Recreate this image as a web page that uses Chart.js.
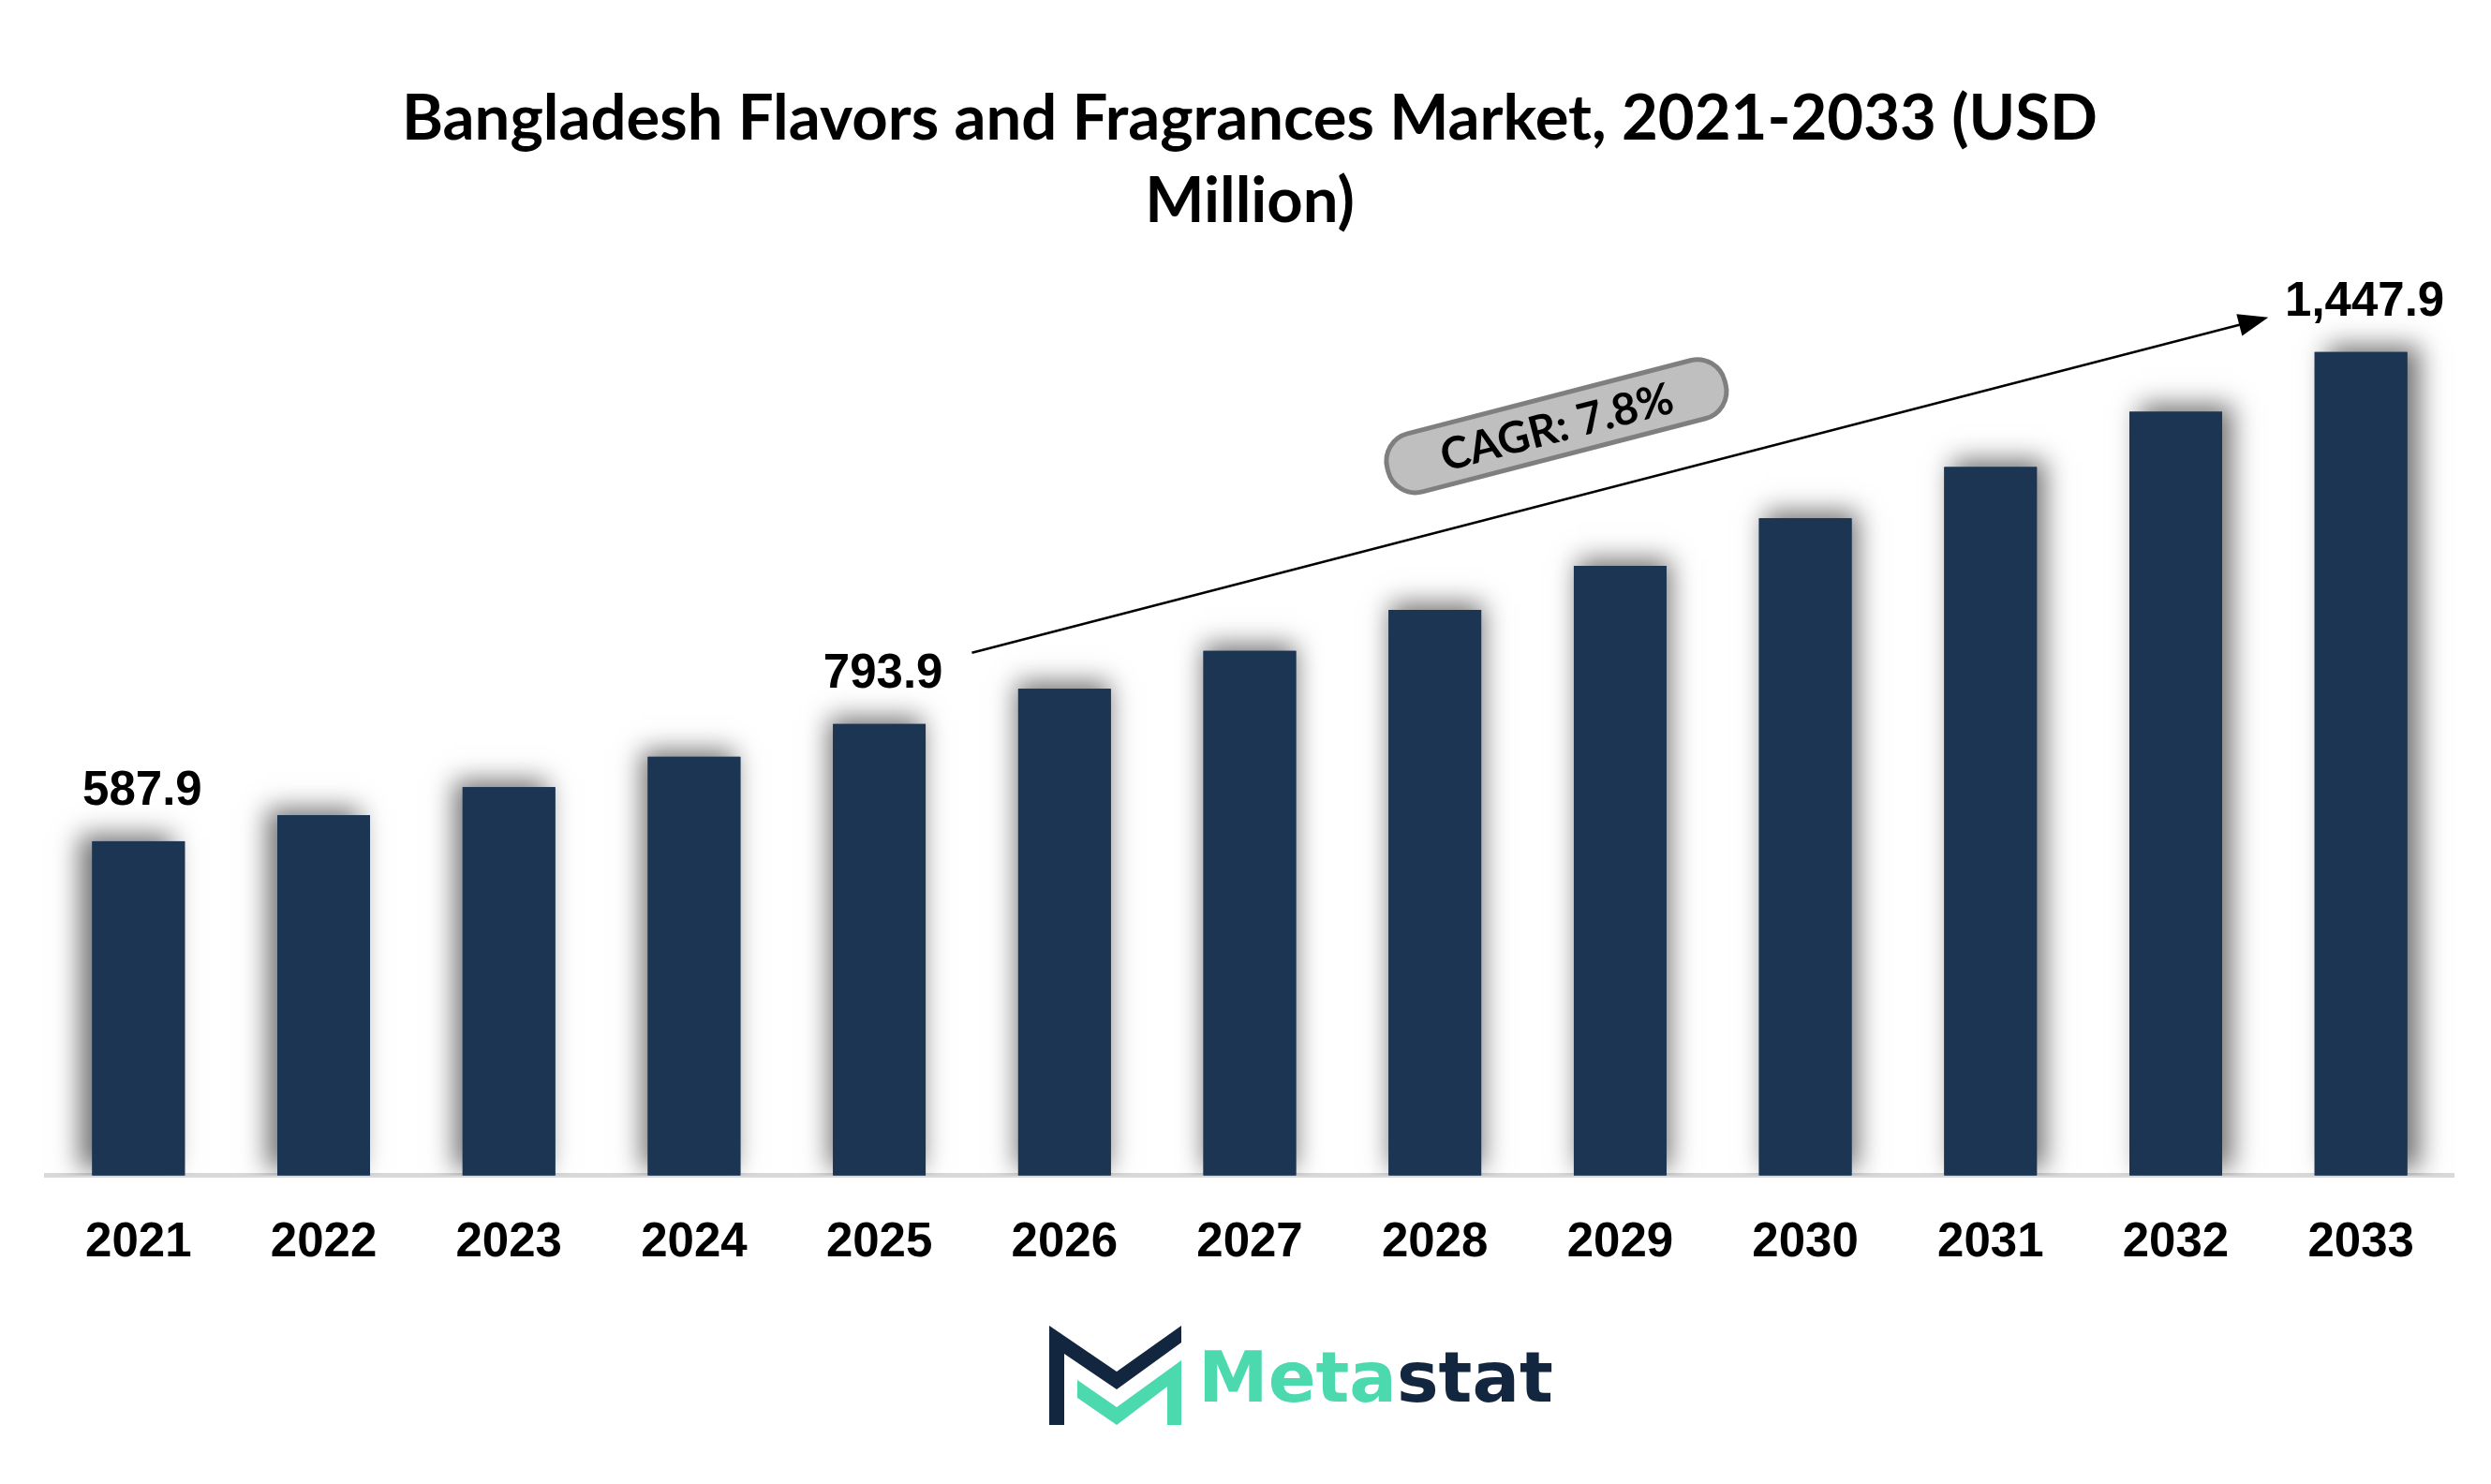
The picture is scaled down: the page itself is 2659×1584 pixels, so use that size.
<!DOCTYPE html>
<html>
<head>
<meta charset="utf-8">
<script src="https://cdn.jsdelivr.net/npm/chart.js@4.4.1/dist/chart.umd.min.js"></script>
<style>
  html, body { margin: 0; padding: 0; background: #fff; }
  #wrap { width: 2659px; height: 1584px; position: relative; }
</style>
</head>
<body>
<div id="wrap"><canvas id="chart"></canvas></div>
<script>
const years = ['2021','2022','2023','2024','2025','2026','2027','2028','2029','2030','2031','2032','2033']
const marketSize = [587.9, 633.5, 682.9, 736.2, 793.9, 855.8, 922.5, 994.5, 1072.0, 1155.6, 1245.8, 1343.0, 1447.9]
const labelledYears = [0, 4, 12]
const cagrText = 'CAGR: 7.8%'
const titleLines = ['Bangladesh Flavors and Fragrances Market, 2021-2033 (USD', 'Million)']

const barColor = '#1b3553'

// soft shadow behind each bar, pushed outwards from the middle
const barShadow = {
  id: 'barShadow',
  beforeDatasetsDraw(chart) {
    const ctx = chart.ctx
    const area = chart.chartArea
    const bars = chart.getDatasetMeta(0).data
    ctx.save()
    ctx.beginPath()
    ctx.rect(0, 0, chart.width, area.bottom)
    ctx.clip()
    bars.forEach((b, i) => {
      ctx.save()
      ctx.shadowColor = 'rgba(0,0,0,0.55)'
      ctx.shadowBlur = 26
      ctx.shadowOffsetX = -13 + 26 * i / (bars.length - 1)
      ctx.shadowOffsetY = -7
      ctx.fillStyle = barColor
      ctx.fillRect(b.x - b.width / 2, b.y, b.width, b.base - b.y)
      ctx.restore()
    })
    ctx.restore()
  }
}

const valueLabels = {
  id: 'valueLabels',
  afterDatasetsDraw(chart) {
    const ctx = chart.ctx
    const bars = chart.getDatasetMeta(0).data
    ctx.save()
    ctx.font = 'bold 51px "Liberation Sans", Arial, sans-serif'
    ctx.fillStyle = '#000'
    ctx.textAlign = 'center'
    ctx.textBaseline = 'middle'
    for (const i of labelledYears) {
      const txt = marketSize[i].toLocaleString('en-US', { minimumFractionDigits: 1 })
      ctx.fillText(txt, bars[i].x + 4, bars[i].y - 53)
    }
    ctx.restore()
  }
}

const cagrArrow = {
  id: 'cagrArrow',
  afterDraw(chart) {
    const ctx = chart.ctx
    const x = chart.scales.x, y = chart.scales.y
    const sx = (x.getPixelForValue(4) + x.getPixelForValue(5)) / 2
    const sy = y.getPixelForValue(marketSize[4]) - 76
    const ex = (x.getPixelForValue(11) + x.getPixelForValue(12)) / 2
    const ey = y.getPixelForValue(marketSize[12]) - 37
    const ang = Math.atan2(ey - sy, ex - sx)

    ctx.save()
    ctx.strokeStyle = '#000'
    ctx.lineWidth = 2.5
    ctx.beginPath()
    ctx.moveTo(sx, sy)
    ctx.lineTo(ex - 26 * Math.cos(ang), ey - 26 * Math.sin(ang))
    ctx.stroke()
    // arrow head
    ctx.translate(ex, ey)
    ctx.rotate(ang)
    ctx.fillStyle = '#000'
    ctx.beginPath()
    ctx.moveTo(0, 0)
    ctx.lineTo(-32, -12)
    ctx.lineTo(-32, 12)
    ctx.closePath()
    ctx.fill()
    ctx.restore()

    // pill with CAGR text
    const t = 0.465
    const off = 78
    const cx = sx + (ex - sx) * t + off * Math.sin(ang)
    const cy = sy + (ey - sy) * t - off * Math.cos(ang)
    const w = 372, h = 64, r = 30
    ctx.save()
    ctx.translate(cx, cy)
    ctx.rotate(ang)
    ctx.beginPath()
    ctx.roundRect(-w / 2, -h / 2, w, h, r)
    ctx.fillStyle = '#bfbfbf'
    ctx.fill()
    ctx.lineWidth = 5
    ctx.strokeStyle = '#7f7f7f'
    ctx.stroke()
    ctx.fillStyle = '#000'
    ctx.font = 'bold 47px Lato, "Open Sans", sans-serif'
    ctx.textAlign = 'center'
    ctx.textBaseline = 'middle'
    ctx.fillText(cagrText, 0, 2)
    ctx.restore()
  }
}

const logo = {
  id: 'logo',
  afterDraw(chart) {
    const ctx = chart.ctx
    const ox = 1120, oy = 1415
    ctx.save()
    ctx.translate(ox, oy)
    ctx.fillStyle = '#13263f'
    ctx.beginPath()
    ctx.moveTo(0, 0); ctx.lineTo(72, 49); ctx.lineTo(141, 0); ctx.lineTo(141, 18)
    ctx.lineTo(72, 68); ctx.lineTo(16, 30); ctx.lineTo(16, 106); ctx.lineTo(0, 106)
    ctx.closePath(); ctx.fill()
    ctx.fillStyle = '#4cd9ae'
    ctx.beginPath()
    ctx.moveTo(30, 58); ctx.lineTo(72, 87); ctx.lineTo(141, 37); ctx.lineTo(141, 106)
    ctx.lineTo(126, 106); ctx.lineTo(126, 65); ctx.lineTo(72, 106); ctx.lineTo(30, 77)
    ctx.closePath(); ctx.fill()
    ctx.restore()

    ctx.save()
    ctx.font = 'bold 75px "DejaVu Sans", sans-serif'
    ctx.textBaseline = 'alphabetic'
    ctx.textAlign = 'left'
    ctx.fillStyle = '#4cd9ae'
    ctx.fillText('Meta', 1279, 1496)
    const mw = ctx.measureText('Meta').width
    ctx.fillStyle = '#13263f'
    ctx.fillText('stat', 1279 + mw, 1496)
    ctx.restore()
  }
}

new Chart(document.getElementById('chart'), {
  type: 'bar',
  data: {
    labels: years,
    datasets: [{
      data: marketSize,
      backgroundColor: barColor,
      barPercentage: 0.5,
      categoryPercentage: 1.0
    }]
  },
  options: {
    responsive: true,
    maintainAspectRatio: false,
    animation: false,
    devicePixelRatio: 1,
    layout: { padding: { left: 49, right: 40, top: 0, bottom: 184 } },
    plugins: {
      legend: { display: false },
      tooltip: { enabled: false },
      title: {
        display: true,
        text: titleLines,
        color: '#000',
        font: { family: 'Lato, "Open Sans", sans-serif', size: 67, weight: 'bold', lineHeight: 88 / 67 },
        padding: { top: 83, bottom: 22 }
      }
    },
    scales: {
      x: {
        grid: { display: false, drawTicks: false },
        border: { display: true, color: '#d9d9d9', width: 5 },
        ticks: {
          color: '#000',
          padding: 42,
          font: { family: '"Liberation Sans", Arial, sans-serif', size: 51, weight: 'bold' }
        }
      },
      y: {
        display: false,
        min: 0,
        max: 1604
      }
    }
  },
  plugins: [barShadow, valueLabels, cagrArrow, logo]
})
</script>
</body>
</html>
